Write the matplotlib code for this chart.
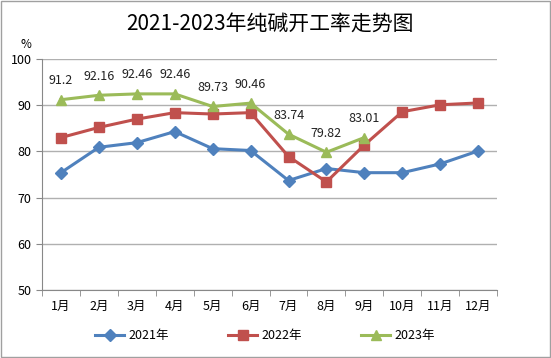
import matplotlib.pyplot as plt
from matplotlib.patches import Rectangle

plt.rcParams['font.family'] = ['Noto Sans CJK SC', 'DejaVu Sans']

months = ['1月', '2月', '3月', '4月', '5月', '6月', '7月', '8月', '9月', '10月', '11月', '12月']
rate_2021 = [75.4, 80.9, 81.9, 84.3, 80.6, 80.2, 73.7, 76.3, 75.4, 75.4, 77.3, 80.1]
rate_2022 = [83.0, 85.2, 87.0, 88.4, 88.1, 88.4, 78.9, 73.4, 81.4, 88.6, 90.1, 90.5]
rate_2023 = [91.2, 92.16, 92.46, 92.46, 89.73, 90.46, 83.74, 79.82, 83.01]
labels_2023 = ['91.2', '92.16', '92.46', '92.46', '89.73', '90.46', '83.74', '79.82', '83.01']

fig = plt.figure(figsize=(5.51, 3.58), dpi=100)
ax = fig.add_axes([0.0762, 0.19, 0.826, 0.645])

x = list(range(len(months)))
ax.plot(x, rate_2021, color='#4F81BD', lw=2.2, marker='D', ms=6, label='2021年')
ax.plot(x, rate_2022, color='#C0504D', lw=2.2, marker='s', ms=7, label='2022年')
ax.plot(x[:len(rate_2023)], rate_2023, color='#9BBB59', lw=2.2, marker='^', ms=7.5, label='2023年')

for i, (v, s) in enumerate(zip(rate_2023, labels_2023)):
    ax.annotate(s, (i, v), xytext=(0, 9), textcoords='offset points',
                ha='center', va='bottom', fontsize=9, color='#222222')

ax.set_xlim(-0.5, 11.5)
ax.set_ylim(50, 100)
ax.set_yticks([50, 60, 70, 80, 90, 100])
ax.set_xticks(x)
ax.set_xticklabels(months)
ax.set_xticks([i - 0.5 for i in range(13)], minor=True)
ax.tick_params(axis='x', which='major', length=0, labelsize=9, pad=7)
ax.tick_params(axis='x', which='minor', length=4, color='#888888')
ax.tick_params(axis='y', length=4, color='#888888', labelsize=9)
ax.grid(axis='y', color='#b0b0b0', lw=1)
ax.set_axisbelow(True)
for s in ['top', 'right']:
    ax.spines[s].set_visible(False)
for s in ['left', 'bottom']:
    ax.spines[s].set_color('#888888')

fig.text(0.047, 0.875, '%', fontsize=8.5, ha='center', va='center')
fig.text(0.49, 0.935, '2021-2023年纯碱开工率走势图', fontsize=15, ha='center', va='center')

ax.legend(loc='upper center', bbox_to_anchor=(0.49, -0.12), ncol=3, frameon=False,
          fontsize=9, handlelength=2.3, columnspacing=4.8, handletextpad=0.3)

fig.patches.append(Rectangle((0.001, 0.002), 0.997, 0.996, transform=fig.transFigure,
                             fill=False, edgecolor='#a0a0a0', lw=1))

fig.savefig('out.png', dpi=100)
